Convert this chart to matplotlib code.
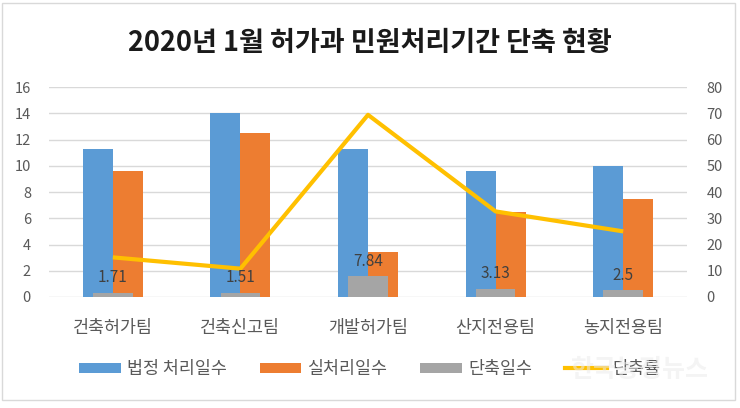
import matplotlib
matplotlib.use("Agg")
import matplotlib.pyplot as plt
import numpy as np
from matplotlib.patches import Patch, Rectangle
from matplotlib.lines import Line2D

plt.rcParams['font.family'] = ['Noto Sans CJK KR', 'DejaVu Sans']

categories = ['건축허가팀', '건축신고팀', '개발허가팀', '산지전용팀', '농지전용팀']
legal_days = [11.3, 14.0, 11.3, 9.6, 10.0]
actual_days = [9.59, 12.49, 3.46, 6.47, 7.5]
short_days = [1.71, 1.51, 7.84, 3.13, 2.5]
short_rate = [15.1, 10.8, 69.4, 32.6, 25.0]
short_labels = ['1.71', '1.51', '7.84', '3.13', '2.5']
series_names = ['법정 처리일수', '실처리일수', '단축일수', '단축률']
title = '2020년 1월 허가과 민원처리기간 단축 현황'
left_ticks = [0, 2, 4, 6, 8, 10, 12, 14, 16]
right_ticks = [0, 10, 20, 30, 40, 50, 60, 70, 80]

c_blue = '#5B9BD5'
c_orange = '#ED7D31'
c_gray = '#A5A5A5'
c_gold = '#FFC000'
c_text = '#595959'

fig = plt.figure(figsize=(7.4, 4.08), dpi=100)
fig.patch.set_facecolor('white')
fig.add_artist(Rectangle((2/740, 8/408), 733/740, 397/408, transform=fig.transFigure,
                         fill=False, edgecolor='#D9D9D9', linewidth=1.0))

ax = fig.add_axes([49/740, 111/408, 638/740, 210/408])
x = np.arange(len(categories))
bw = 0.235
ax.bar(x - bw/2, legal_days, bw, color=c_blue, zorder=2)
ax.bar(x + bw/2, actual_days, bw, color=c_orange, zorder=2)
ax.set_ylim(0, 16)
ax.set_yticks(left_ticks)
ax.set_xlim(-0.5, len(categories) - 0.5)
ax.set_xticks(x)
ax.set_xticklabels(categories, fontsize=12.5, color=c_text)
ax.yaxis.grid(True, color='#D9D9D9', linewidth=1.0, zorder=0)
ax.set_axisbelow(True)
for s in ax.spines.values():
    s.set_visible(False)
ax.tick_params(axis='both', length=0)
ax.tick_params(axis='y', labelsize=10.5, labelcolor=c_text, pad=13)
ax.tick_params(axis='x', pad=16)

ax2 = ax.twinx()
ax2.bar(x, short_days, 0.31, color=c_gray, zorder=2)
ax2.plot(x, short_rate, color=c_gold, linewidth=3.0, zorder=3, solid_capstyle='butt')
ax2.set_ylim(0, 80)
ax2.set_yticks(right_ticks)
for s in ax2.spines.values():
    s.set_visible(False)
ax2.tick_params(axis='y', length=0, labelsize=10.5, labelcolor=c_text, pad=14)
for xi, v, lab in zip(x, short_days, short_labels):
    ax2.annotate(lab, (xi, v), xytext=(0, 11), textcoords='offset points',
                 ha='center', va='center', fontsize=11, color='#404040', zorder=4)

fig.text(0.5, (408 - 43) / 408, title, ha='center', va='center',
         fontsize=19.5, fontweight='bold', color='#1A1A1A')

handles = [Patch(facecolor=c_blue), Patch(facecolor=c_orange), Patch(facecolor=c_gray),
           Line2D([], [], color=c_gold, linewidth=3.0)]
fig.legend(handles, series_names, loc='center', bbox_to_anchor=(0.5, (408 - 369) / 408),
           ncol=4, frameon=False, fontsize=12.5, labelcolor=c_text,
           handlelength=2.4, handleheight=0.5, handletextpad=0.35, columnspacing=1.9)

fig.text(640/740, (408 - 370) / 408, '한국농정뉴스', ha='center', va='center',
         fontsize=18, fontweight='bold', color='#EBEBEB', alpha=0.55, zorder=10)

fig.savefig('out.png', dpi=100)
